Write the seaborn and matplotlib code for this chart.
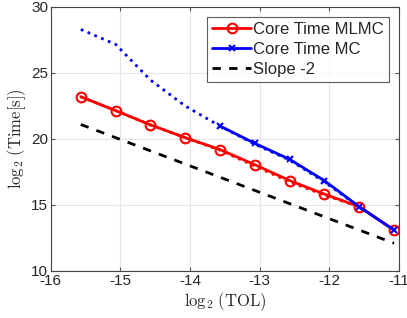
import numpy as np
import pandas as pd
import matplotlib
matplotlib.use('Agg')
import matplotlib.pyplot as plt
import seaborn as sns

# log2(TOL) grid
tol = [-15.57, -15.07, -14.57, -14.07, -13.57, -13.07, -12.57, -12.07, -11.57, -11.07]

# measured core times (log2 seconds)
mlmc_time = [23.2, 22.15, 21.07, 20.1, 19.2, 18.05, 16.85, 15.82, 14.87, 13.1]
mc_time = [np.nan, np.nan, np.nan, np.nan, 20.98, 19.67, 18.46, 16.84, 14.87, 13.1]

# estimated (dotted) curves
mlmc_est = [23.2, 22.15, 21.07, 20.1, 19.15, 17.95, 16.75, 15.75, 14.87, 13.1]
mc_est = [28.3, 27.17, 24.47, 22.5, 20.98, 19.6, 18.4, 16.75, 14.85, 13.1]

# slope -2 reference line endpoints
slope_x = [-15.57, -11.07]
slope_y = [21.1, 12.1]

df = pd.DataFrame({'tol': tol, 'mlmc': mlmc_time, 'mc': mc_time,
                   'mlmc_est': mlmc_est, 'mc_est': mc_est})

sns.set_style('white')
plt.rcParams['font.family'] = ['Liberation Sans', 'DejaVu Sans']
plt.rcParams['mathtext.fontset'] = 'cm'
plt.rcParams['axes.unicode_minus'] = False

fig = plt.figure(figsize=(4.07, 3.18), dpi=100)
ax = fig.add_axes([0.125, 0.148, 0.855, 0.83])

# dotted estimates
sns.lineplot(data=df, x='tol', y='mlmc_est', ax=ax, color='red', lw=2,
             linestyle=':', legend=False)
sns.lineplot(data=df, x='tol', y='mc_est', ax=ax, color='blue', lw=2,
             linestyle=':', legend=False)

# measured
sns.lineplot(data=df, x='tol', y='mlmc', ax=ax, color='red', lw=2,
             marker='o', markersize=7, markerfacecolor='none',
             markeredgecolor='red', markeredgewidth=1.5, label='Core Time MLMC')
sns.lineplot(data=df.dropna(), x='tol', y='mc', ax=ax, color='blue', lw=2,
             marker='x', markersize=5, markeredgecolor='blue',
             markeredgewidth=1.5, label='Core Time MC')
sns.lineplot(x=slope_x, y=slope_y, ax=ax, color='black', lw=2,
             linestyle=(0, (3, 3)), label='Slope -2')

ax.set_xlim(-16, -11)
ax.set_ylim(10, 30)
ax.set_xticks(range(-16, -10))
ax.set_yticks(range(10, 31, 5))
ax.tick_params(direction='in', labelsize=11, length=3, color='#555555',
               top=True, right=True, bottom=True, left=True, pad=2)
ax.grid(True, color='#e6e6e6', lw=0.8)
for s in ax.spines.values():
    s.set_color('#444444')
    s.set_linewidth(0.8)

ax.set_xlabel(r'$\log_2\,(\mathrm{TOL})$', fontsize=12, labelpad=2)
ax.set_ylabel(r'$\log_2\,(\mathrm{Time[s]})$', fontsize=12, labelpad=2)

leg = ax.legend(loc='upper right', fontsize=12, frameon=True, fancybox=False,
                handlelength=2.3, borderpad=0.3, labelspacing=0.3,
                handletextpad=0.15, borderaxespad=0.6)
leg.get_frame().set_edgecolor('#333333')
leg.get_frame().set_linewidth(0.8)

plt.savefig('out.png', dpi=100)
